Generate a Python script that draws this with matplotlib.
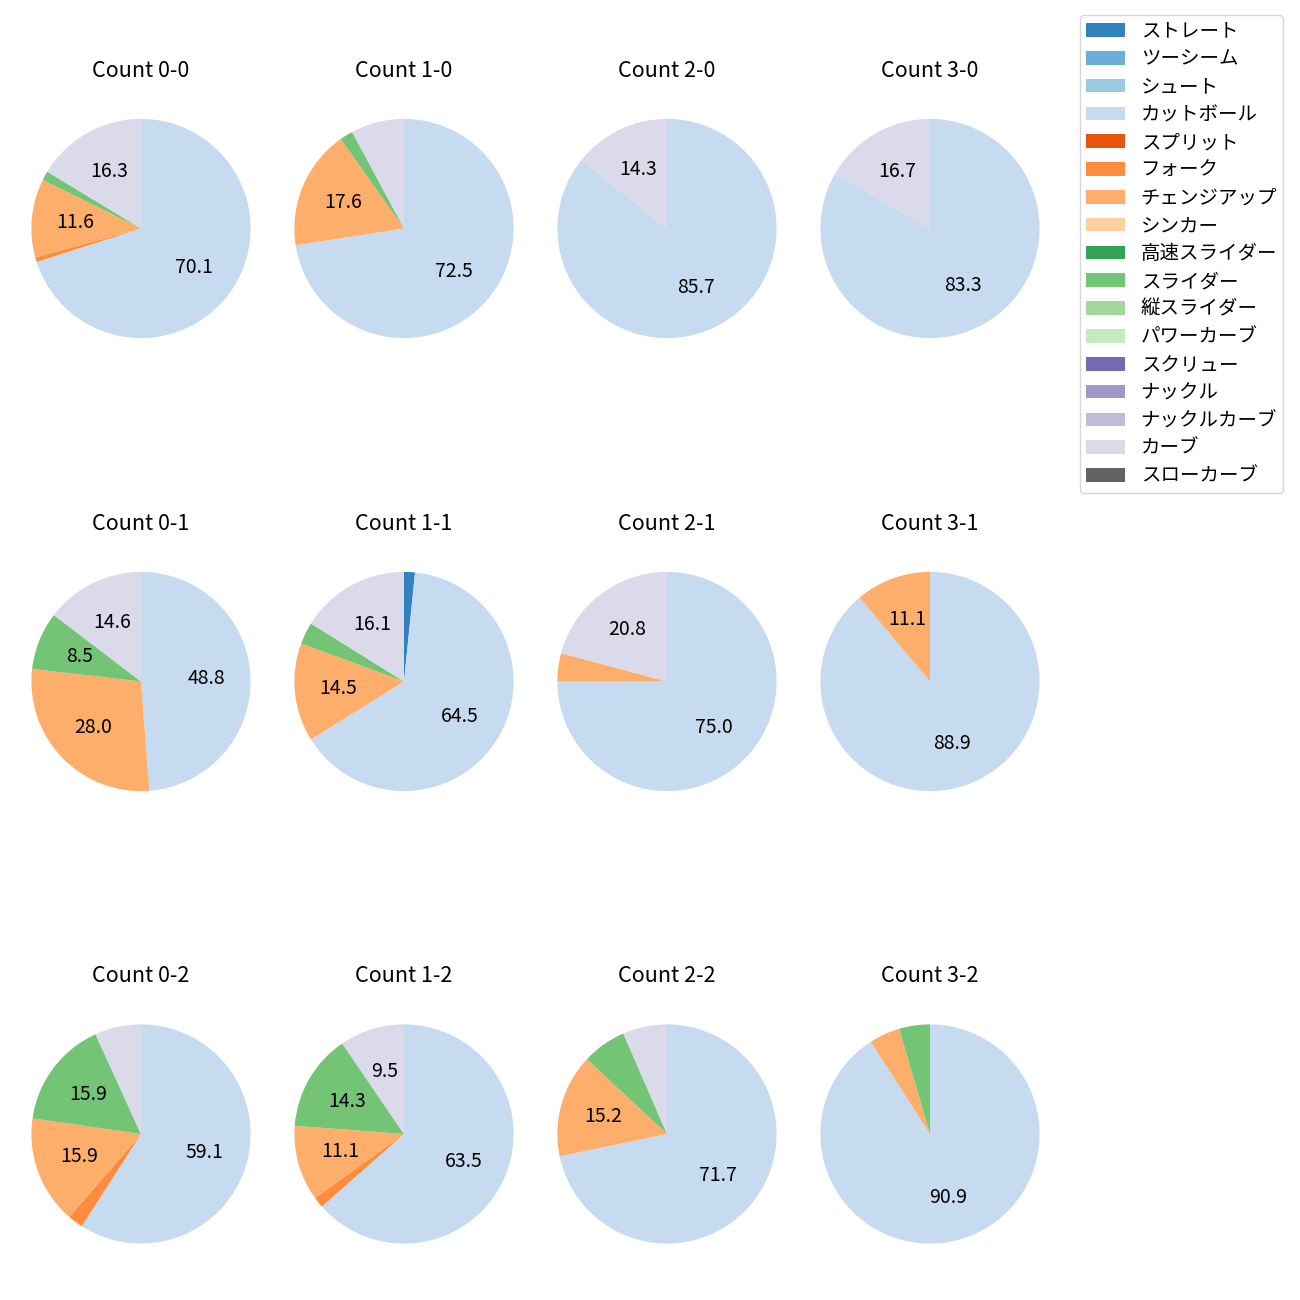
import matplotlib
matplotlib.use("Agg")
import matplotlib.pyplot as plt
from matplotlib.patches import Patch
import numpy as np

plt.rcParams['font.family'] = ['Noto Sans CJK JP', 'DejaVu Sans']

pitch_types = ['ストレート', 'ツーシーム', 'シュート', 'カットボール', 'スプリット', 'フォーク',
               'チェンジアップ', 'シンカー', '高速スライダー', 'スライダー', '縦スライダー',
               'パワーカーブ', 'スクリュー', 'ナックル', 'ナックルカーブ', 'カーブ', 'スローカーブ']

counts = ['0-0', '1-0', '2-0', '3-0',
          '0-1', '1-1', '2-1', '3-1',
          '0-2', '1-2', '2-2', '3-2']

# pitch counts per ball-strike count (order follows pitch_types)
c_0_0 = [0, 0, 0, 103, 0, 1, 17, 0, 0, 2, 0, 0, 0, 0, 0, 24, 0]
c_1_0 = [0, 0, 0, 37, 0, 0, 9, 0, 0, 1, 0, 0, 0, 0, 0, 4, 0]
c_2_0 = [0, 0, 0, 6, 0, 0, 0, 0, 0, 0, 0, 0, 0, 0, 0, 1, 0]
c_3_0 = [0, 0, 0, 5, 0, 0, 0, 0, 0, 0, 0, 0, 0, 0, 0, 1, 0]
c_0_1 = [0, 0, 0, 40, 0, 0, 23, 0, 0, 7, 0, 0, 0, 0, 0, 12, 0]
c_1_1 = [1, 0, 0, 40, 0, 0, 9, 0, 0, 2, 0, 0, 0, 0, 0, 10, 0]
c_2_1 = [0, 0, 0, 18, 0, 0, 1, 0, 0, 0, 0, 0, 0, 0, 0, 5, 0]
c_3_1 = [0, 0, 0, 8, 0, 0, 1, 0, 0, 0, 0, 0, 0, 0, 0, 0, 0]
c_0_2 = [0, 0, 0, 26, 0, 1, 7, 0, 0, 7, 0, 0, 0, 0, 0, 3, 0]
c_1_2 = [0, 0, 0, 40, 0, 1, 7, 0, 0, 9, 0, 0, 0, 0, 0, 6, 0]
c_2_2 = [0, 0, 0, 33, 0, 0, 7, 0, 0, 3, 0, 0, 0, 0, 0, 3, 0]
c_3_2 = [0, 0, 0, 20, 0, 0, 1, 0, 0, 1, 0, 0, 0, 0, 0, 0, 0]

all_counts = [c_0_0, c_1_0, c_2_0, c_3_0,
              c_0_1, c_1_1, c_2_1, c_3_1,
              c_0_2, c_1_2, c_2_2, c_3_2]

cmap = plt.get_cmap('tab20c')
colors = [cmap(i) for i in range(17)]

fig = plt.figure(figsize=(13, 13), dpi=100)
W = H = 1300.0
col_cx = [141, 404, 667, 930]
row_cy = [228.5, 681.5, 1134]
box = 274.0

def autopct(p):
    return f'{p:.1f}' if p >= 8 else ''

for idx, (cnt, vals) in enumerate(zip(counts, all_counts)):
    r, c = divmod(idx, 4)
    cx, cy = col_cx[c], row_cy[r]
    ax = fig.add_axes([(cx - box / 2) / W, 1 - (cy + box / 2) / H, box / W, box / H])
    vals = np.array(vals, dtype=float)
    mask = vals > 0
    ax.pie(vals[mask], colors=[colors[i] for i in range(17) if mask[i]],
           startangle=90, counterclock=False, autopct=autopct,
           textprops={'fontsize': 14})
    ax.set_title(f'Count {cnt}', fontsize=15.5, pad=10.5)

handles = [Patch(facecolor=colors[i], label=pitch_types[i]) for i in range(17)]
fig.legend(handles=handles, loc='upper right',
           bbox_to_anchor=(1283 / W, 1 - 15 / H), borderaxespad=0, fontsize=14,
           labelspacing=0.35, borderpad=0.3)

fig.savefig('out.png', dpi=100)
